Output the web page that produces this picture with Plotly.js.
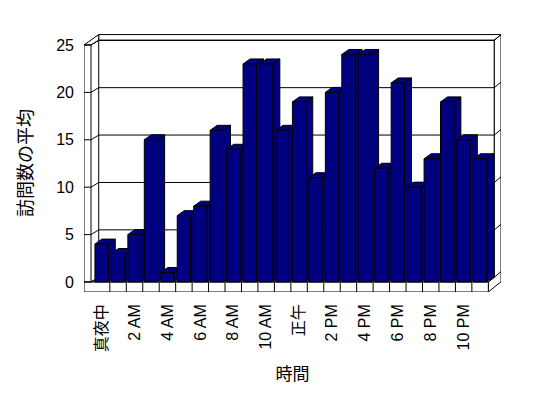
<!DOCTYPE html>
<html>
<head>
<meta charset="utf-8">
<script src="https://cdn.plot.ly/plotly-3.0.1.min.js"></script>
<style>html,body{margin:0;padding:0;background:#fff;}#chart{width:548px;height:398px;}</style>
</head>
<body>
<div id="chart"></div>
<script>
// ---- data ----
const hourLabels = ['真夜中','1 AM','2 AM','3 AM','4 AM','5 AM','6 AM','7 AM','8 AM','9 AM','10 AM','11 AM',
                    '正午','1 PM','2 PM','3 PM','4 PM','5 PM','6 PM','7 PM','8 PM','9 PM','10 PM','11 PM'];
const avgVisits = [4,3,5,15,1,7,8,16,14,23,23,16,19,11,20,24,24,12,21,10,13,19,15,13];
const yTickValues = [0,5,10,15,20,25];
const xTitle = '時間';
const yTitle = '訪問数の平均';

// ---- geometry (styling constants for the pseudo-3D look) ----
const hourIdx = hourLabels.map((_, i) => i);
const tickIdx = hourIdx.filter(i => i % 2 === 0);
const tickText = tickIdx.map(i => hourLabels[i]);

const XL = -1.07, XR_OUT = 24.27;          // x range
const YB = -1.055, YT = 26.16;             // y range
const WALL_T = 0.4255;                     // left wall front thickness
const XB = -0.176;                         // back wall face left
const XR_FLOOR = 23.5, XR_BACK = 23.865;   // floor front right, back wall right
const BACK_DY = 0.5, TOP_OUT = 26.1;
const BAR_W = 0.81, DX = 0.4255, DY = 0.527;
const NAVY = '#000080';

const line = {color: '#000', width: 1};
const shapes = [];
function poly(pts, fill) {
  const d = 'M' + pts.map(p => p[0] + ',' + p[1]).join(' L') + ' Z';
  shapes.push({type: 'path', xref: 'x', yref: 'y', path: d, fillcolor: fill, line: line, layer: 'below'});
}
function seg(x0, y0, x1, y1) {
  shapes.push({type: 'line', xref: 'x', yref: 'y', x0, y0, x1, y1, line: line, layer: 'below'});
}
const yMax = yTickValues[yTickValues.length - 1];
// back wall face
poly([[XB, BACK_DY],[XR_BACK, BACK_DY],[XR_BACK, yMax + BACK_DY],[XB, yMax + BACK_DY]], '#fff');
// top strip of back wall + left wall top
poly([[XB, yMax + BACK_DY],[XR_BACK, yMax + BACK_DY],[XR_OUT, TOP_OUT],[XB, TOP_OUT]], '#fff');
poly([[XL, yMax],[XL + WALL_T, yMax],[XB, yMax + BACK_DY],[XB, TOP_OUT]], '#fff');
// right side of back wall & floor
poly([[XR_BACK, yMax + BACK_DY],[XR_OUT, TOP_OUT],[XR_OUT, 0.03],[XR_FLOOR, YB],[XR_FLOOR, 0],[XR_BACK, BACK_DY]], '#fff');
// left wall front face
poly([[XL, 0],[XL + WALL_T, 0],[XL + WALL_T, yMax],[XL, yMax]], '#fff');
// floor top
poly([[XL + WALL_T, 0],[XR_FLOOR, 0],[XR_BACK, BACK_DY],[XB, BACK_DY]], '#fff');
// floor front
poly([[XL, YB],[XR_FLOOR, YB],[XR_FLOOR, 0],[XL, 0]], '#fff');
for (let k = 1; k < hourIdx.length; k++) seg(k - 0.5, YB, k - 0.5, 0);
// gridlines & wall ticks
yTickValues.forEach(v => {
  seg(XB, v + BACK_DY, XR_BACK, v + BACK_DY);
  seg(XL, v, XL + WALL_T, v);
  seg(XL + WALL_T, v, XB, v + BACK_DY);
  seg(XR_BACK, v + BACK_DY, XR_OUT, v + BACK_DY + 0.6);
});
// bar side and top faces
hourIdx.forEach((x, i) => {
  const v = avgVisits[i];
  const L = x - BAR_W / 2, R = x + BAR_W / 2;
  poly([[R, 0],[R, v],[R + DX, v + DY],[R + DX, DY]], NAVY);
  poly([[L, v],[R, v],[R + DX, v + DY],[L + DX, v + DY]], NAVY);
});

const fam = 'Liberation Sans, Arial, Noto Sans CJK JP, sans-serif';
const font = {family: fam, size: 16, color: '#000000'};

const trace = {
  type: 'bar', x: hourIdx, y: avgVisits, width: BAR_W,
  marker: {color: NAVY, line: {color: '#000', width: 1}},
  hoverinfo: 'skip'
};

const layout = {
  width: 548, height: 398,
  margin: {l: 84, r: 47, t: 34, b: 106},
  paper_bgcolor: '#fff', plot_bgcolor: '#fff',
  showlegend: false,
  font: font,
  xaxis: {
    range: [XL, XR_OUT], tickvals: tickIdx, ticktext: tickText, tickangle: -90,
    showgrid: false, zeroline: false, showline: false, ticks: '',
    ticklabelstandoff: 8, tickfont: font,
    title: {text: xTitle, font: {family: fam, size: 17, color: '#000000'}, standoff: 16}
  },
  yaxis: {
    range: [YB, YT], tickvals: yTickValues, showgrid: false, zeroline: false, showline: false, ticks: '',
    ticklabelstandoff: 9, tickfont: font,
    title: {text: yTitle, font: {family: fam, size: 18, color: '#000000'}, standoff: 18}
  },
  shapes: shapes
};

Plotly.newPlot('chart', [trace], layout, {staticPlot: true, displayModeBar: false});
</script>
</body>
</html>
